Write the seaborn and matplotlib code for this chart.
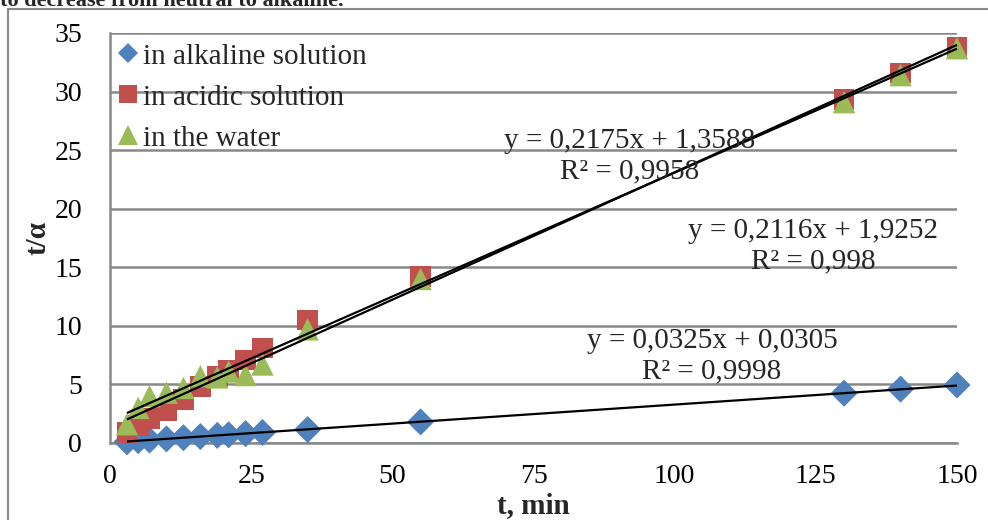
import numpy as np
import pandas as pd
import seaborn as sns
import matplotlib.pyplot as plt
from matplotlib.lines import Line2D

# ---------------- data ----------------
t_min = [3, 5, 7, 10, 13, 16, 19, 21, 24, 27, 35, 55, 130, 140, 150]
alkaline = [0.1, 0.2, 0.25, 0.35, 0.45, 0.55, 0.65, 0.7, 0.8, 0.9, 1.15, 1.8, 4.25, 4.6, 4.95]
acidic = [0.9, 1.5, 2.1, 2.8, 3.7, 4.8, 5.7, 6.2, 7.1, 8.1, 10.5, 14.2, 29.3, 31.6, 33.8]
water = [1.6, 3.0, 4.0, 4.3, 4.7, 5.7, 5.6, 6.1, 5.8, 6.7, 9.7, 14.0, 29.1, 31.4, 33.7]

series_names = ["in alkaline solution", "in acidic solution", "in the water"]
slopes = [0.0325, 0.2175, 0.2116]
intercepts = [0.0305, 1.3588, 1.9252]
r2_values = ["0,9998", "0,9958", "0,998"]
eq_texts = ["y = 0,0325x + 0,0305", "y = 0,2175x + 1,3588", "y = 0,2116x + 1,9252"]

x_ticks = [0, 25, 50, 75, 100, 125, 150]
y_ticks = [0, 5, 10, 15, 20, 25, 30, 35]

df = pd.DataFrame({
    "t": t_min * 3,
    "v": alkaline + acidic + water,
    "series": [series_names[0]] * len(t_min) + [series_names[1]] * len(t_min) + [series_names[2]] * len(t_min),
})

# ---------------- style ----------------
colors = {series_names[0]: "#4F81BD", series_names[1]: "#C0504D", series_names[2]: "#9BBB59"}
markers = {series_names[0]: "D", series_names[1]: "s", series_names[2]: "^"}
msizes = {series_names[0]: 190, series_names[1]: 220, series_names[2]: 260}
grey = "#888888"
FS = 21

sns.set_theme(style="white")
plt.rcParams['font.family'] = ['Liberation Serif', 'DejaVu Serif']

fig = plt.figure(figsize=(9.88, 5.2), dpi=100)
ax = fig.add_axes([110 / 988, 1 - 443 / 520, (957 - 110) / 988, (443 - 33) / 520])

for name in series_names:
    sub = df[df["series"] == name]
    sns.scatterplot(data=sub, x="t", y="v", color=colors[name], marker=markers[name],
                    s=msizes[name], edgecolor="none", linewidth=0, ax=ax, legend=False,
                    clip_on=False, zorder=3)

# trend lines
label_pos = [(106.6, 7.4), (92.1, 24.5), (124.5, 16.8)]
xmin, xmax = min(t_min), max(t_min)
for i, name in enumerate(series_names):
    xs = np.array([xmin, xmax])
    ax.plot(xs, slopes[i] * xs + intercepts[i], color="black", lw=1.6, zorder=5,
            solid_capstyle="butt", clip_on=False)
    ax.text(label_pos[i][0], label_pos[i][1], f"{eq_texts[i]}\nR² = {r2_values[i]}",
            ha="center", va="center", multialignment="center", fontsize=FS,
            linespacing=1.25, zorder=6)

ax.set_xlim(0, 150)
ax.set_ylim(0, 35)
ax.set_xticks(x_ticks)
ax.set_yticks(y_ticks)
ax.set_xticklabels([str(v) for v in x_ticks])
ax.set_yticklabels([str(v) for v in y_ticks])
ax.tick_params(axis="both", direction="out", length=7, width=1.5, color=grey,
               labelsize=20, labelcolor="black")
ax.tick_params(axis="y", pad=13)
ax.tick_params(axis="x", pad=8)
ax.yaxis.grid(True, color=grey, lw=1.8)
ax.xaxis.grid(False)
ax.set_axisbelow(True)
for side in ["top", "right"]:
    ax.spines[side].set_visible(False)
for side in ["left", "bottom"]:
    ax.spines[side].set_color(grey)
    ax.spines[side].set_linewidth(1.8)

ax.set_xlabel("t, min", fontsize=FS, fontweight="bold", labelpad=2)
ax.set_ylabel("t/α", fontsize=FS, fontweight="bold", labelpad=2)

# legend
handles = [Line2D([], [], ls="none", marker=markers[n], color=colors[n],
                  markersize={"D": 10, "s": 13, "^": 14}[markers[n]], markeredgewidth=0)
           for n in series_names]
ax.legend(handles, series_names, loc="upper left", bbox_to_anchor=(-0.013, 1.025),
          frameon=False, fontsize=FS, handlelength=0.6, handletextpad=0.2,
          labelspacing=0.5, borderaxespad=0.3)

# outer frame and clipped heading
fig.add_artist(Line2D([8 / 988, 8 / 988], [0, 1 - 9 / 520], color=grey, lw=1.5,
                      transform=fig.transFigure))
fig.add_artist(Line2D([8 / 988, 1], [1 - 9 / 520, 1 - 9 / 520], color=grey, lw=1.5,
                      transform=fig.transFigure))
fig.text(0.0, 1 - 6 / 520, "to decrease from neutral to alkaline.", fontsize=16,
         fontweight="bold", va="baseline", ha="left")

fig.savefig("out.png", dpi=100)
